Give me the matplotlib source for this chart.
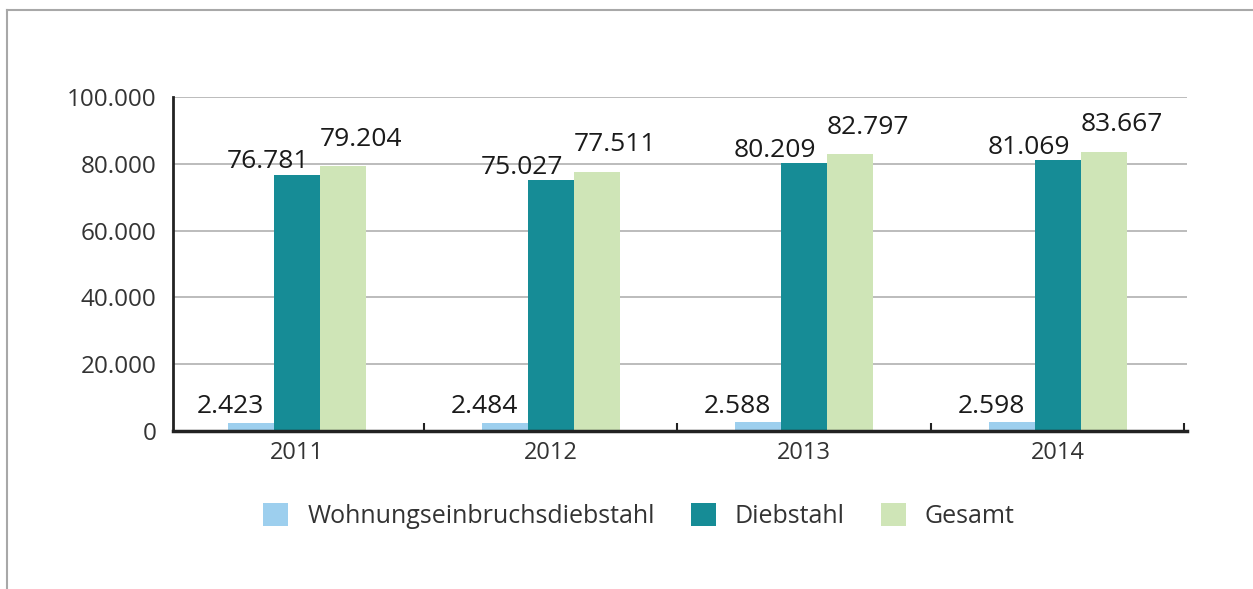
import matplotlib
matplotlib.use("Agg")
import matplotlib.pyplot as plt
import numpy as np
from matplotlib.lines import Line2D

years = ["2011", "2012", "2013", "2014"]
series_names = ["Wohnungseinbruchsdiebstahl", "Diebstahl", "Gesamt"]
wohnung = [2423, 2484, 2588, 2598]
diebstahl = [76781, 75027, 80209, 81069]
gesamt = [79204, 77511, 82797, 83667]
ytick_vals = [0, 20000, 40000, 60000, 80000, 100000]
ytick_labels = ["0", "20.000", "40.000", "60.000", "80.000", "100.000"]

colors = ["#9dcfee", "#168c96", "#cfe5b7"]
label_offsets = [(-15, 7), (-21, 4.5), (13, 15)]  # points

plt.rcParams['font.family'] = ['Open Sans', 'DejaVu Sans']

fig = plt.figure(figsize=(12.53, 5.89), dpi=100)
ax = fig.add_axes([173/1253, 1-431/589, (1187-173)/1253, (431-97)/589])

x = np.arange(len(years))
w = 0.181
data = [wohnung, diebstahl, gesamt]
for i, (vals, c, name) in enumerate(zip(data, colors, series_names)):
    pos = x + (i - 1) * w
    bars = ax.bar(pos, vals, width=w, color=c, label=name, zorder=3)
    dx, dy = label_offsets[i]
    for b, v in zip(bars, vals):
        s = f"{v:,}".replace(",", ".")
        ax.annotate(s, (b.get_x() + b.get_width()/2, v), xytext=(dx, dy),
                    textcoords="offset points", ha="center", va="baseline",
                    fontsize=19, color="#1a1a1a", zorder=4)

ax.set_xlim(-0.49, 3.51)
ax.set_ylim(0, 100000)
ax.set_yticks(ytick_vals)
ax.set_yticklabels(ytick_labels, fontsize=17.5, color="#333333")
ax.set_xticks(x)
ax.set_xticklabels(years, fontsize=17, color="#333333")
ax.tick_params(axis="x", length=0, pad=7)
ax.tick_params(axis="y", length=0, pad=12)
ax.set_xticks([0.5, 1.5, 2.5, 3.5], minor=True)
ax.tick_params(axis="x", which="minor", direction="in", length=6, width=1.5, color="#222222")

ax.grid(axis="y", color="#b0b0b0", linewidth=1.2, zorder=0)
for s in ["top", "right"]:
    ax.spines[s].set_visible(False)
ax.spines["left"].set_color("#222222")
ax.spines["left"].set_linewidth(2)
ax.spines["bottom"].set_color("#222222")
ax.spines["bottom"].set_linewidth(2.5)
ax.spines["bottom"].set_zorder(5)

leg = fig.legend(loc="center", bbox_to_anchor=(0.51, 1-516/589), ncol=3, frameon=False,
                 fontsize=18, handlelength=1.0, handleheight=1.0, handletextpad=0.75,
                 columnspacing=1.45)
for t in leg.get_texts():
    t.set_color("#333333")

# outer border lines (top and left)
fig.add_artist(Line2D([7/1253, 1], [1-10/589, 1-10/589], color="#a8a8a8", linewidth=1.5))
fig.add_artist(Line2D([7/1253, 7/1253], [0, 1-10/589], color="#a8a8a8", linewidth=1.5))

fig.savefig("out.png", dpi=100)
